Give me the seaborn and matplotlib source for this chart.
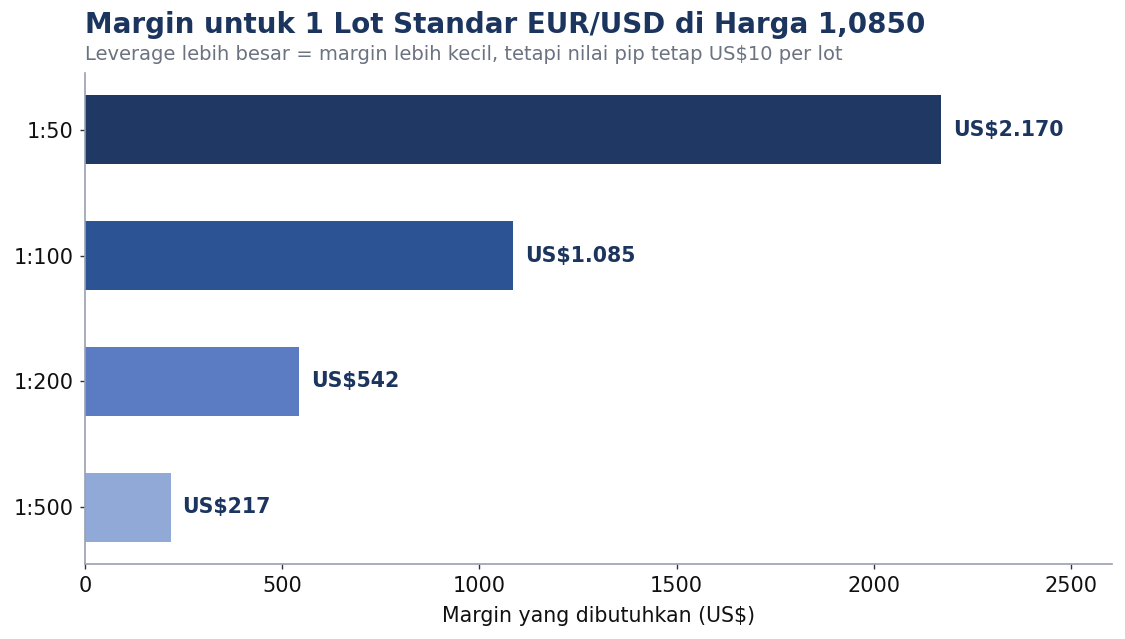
import matplotlib
matplotlib.use("Agg")
import matplotlib.pyplot as plt
import seaborn as sns
import pandas as pd

leverage = ["1:50", "1:100", "1:200", "1:500"]
margin = [2170, 1085, 542.5, 217]
labels = ["US$2.170", "US$1.085", "US$542", "US$217"]
colors = ["#203864", "#2c5494", "#5b7bc2", "#91a9d7"]

sns.set_theme(style="white")
plt.rcParams['font.family'] = ['DejaVu Sans']

df = pd.DataFrame({"lev": leverage, "m": margin})
fig = plt.figure(figsize=(11.25, 6.39), dpi=100)
ax = fig.add_axes([85/1125, 1-564/639, (1112-85)/1125, (564-73)/639])
sns.barplot(data=df, y="lev", x="m", hue="lev", palette=colors, order=leverage,
            hue_order=leverage, width=0.545, legend=False, ax=ax, saturation=1,
            linewidth=0)
ax.set_xlim(0, max(margin) * 1.2)
ax.set_ylim(3.45, -0.45)
for i, (v, t) in enumerate(zip(margin, labels)):
    ax.text(v + 30, i, t, va="center", ha="left", fontsize=14.8, fontweight="bold", color="#1c355e")
ax.set_ylabel("")
ax.set_xlabel("Margin yang dibutuhkan (US$)", fontsize=14.8, color="#111111", labelpad=7)
ax.tick_params(axis="both", labelsize=15, labelcolor="#111111", length=3.5, width=1,
               bottom=True, left=True, pad=5, color="#333333")
for s in ["top", "right"]:
    ax.spines[s].set_visible(False)
for s in ["left", "bottom"]:
    ax.spines[s].set_color("#9aa0b0")
    ax.spines[s].set_linewidth(1.2)
fig.text(85/1125, 1-25/639, "Margin untuk 1 Lot Standar EUR/USD di Harga 1,0850",
         fontsize=20, fontweight="bold", color="#1c355e", va="center", ha="left")
fig.text(85/1125, 1-54/639, "Leverage lebih besar = margin lebih kecil, tetapi nilai pip tetap US$10 per lot",
         fontsize=14, color="#6b7280", va="center", ha="left")
fig.savefig("out.png", dpi=100)
